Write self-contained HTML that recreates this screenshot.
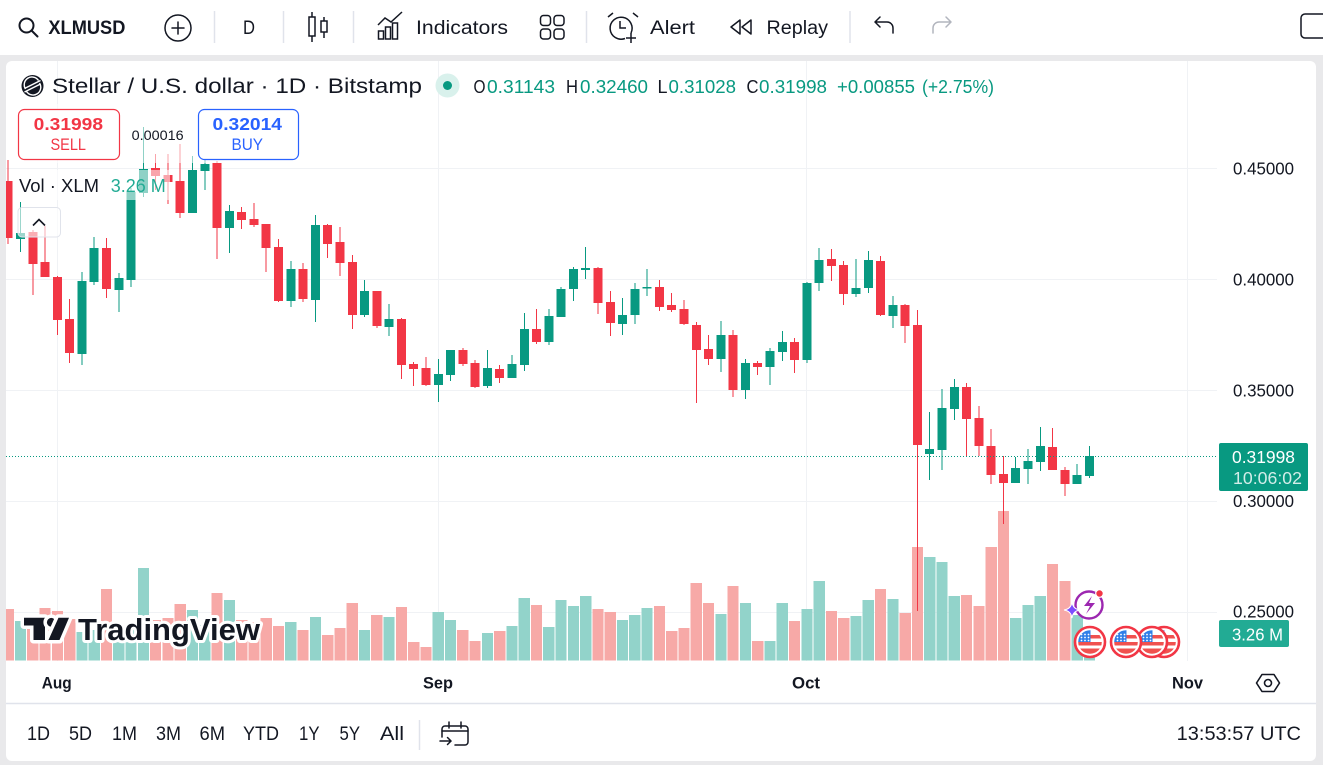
<!DOCTYPE html>
<html><head><meta charset="utf-8"><style>
html,body{margin:0;padding:0;background:#e9e9eb;}
svg{display:block;font-family:"Liberation Sans",Arial,sans-serif;}
.g{fill:#089981}.r{fill:#f23645}.vg{fill:#92d3ca}.vr{fill:#f7a9a7}
.t{fill:#131722}
</style></head><body>
<svg width="1323" height="765" viewBox="0 0 1323 765" xmlns="http://www.w3.org/2000/svg">
<defs>
<clipPath id="cc"><rect x="6" y="61" width="1211" height="600"/></clipPath>
<clipPath id="fc"><circle r="11.8"/></clipPath>
<g id="flag">
<circle r="15" fill="#fff" stroke="#f23645" stroke-width="2.6"/>
<g clip-path="url(#fc)">
<rect x="-13" y="-13" width="26" height="26" fill="#fff"/>
<rect x="-13" y="-7" width="26" height="3.5" fill="#f0514f"/>
<rect x="-13" y="0" width="26" height="3.5" fill="#f0514f"/>
<rect x="-13" y="6.5" width="26" height="6" fill="#f0514f"/>
<rect x="-13" y="-13" width="13.5" height="13" fill="#2f7fe8"/>
<g fill="#fff"><circle cx="-8.5" cy="-7.5" r=".9"/><circle cx="-5" cy="-7.5" r=".9"/><circle cx="-1.5" cy="-7.5" r=".9"/><circle cx="-8.5" cy="-4.5" r=".9"/><circle cx="-5" cy="-4.5" r=".9"/><circle cx="-1.5" cy="-4.5" r=".9"/><circle cx="-8.5" cy="-1.5" r=".9"/><circle cx="-5" cy="-1.5" r=".9"/><circle cx="-1.5" cy="-1.5" r=".9"/></g>
</g>
</g>
</defs>
<!-- backgrounds -->
<rect width="1323" height="765" fill="#e9e9eb"/>
<rect x="0" y="0" width="1323" height="55" fill="#fff"/>
<rect x="6" y="61" width="1310" height="700" rx="6" fill="#fff"/>
<line x1="6" y1="703.5" x2="1316" y2="703.5" stroke="#e0e3eb" stroke-width="1.5"/>

<!-- toolbar -->
<g fill="none" stroke="#131722" stroke-width="2" stroke-linecap="round">
<circle cx="26.5" cy="25.5" r="7"/><line x1="31.5" y1="30.5" x2="37.5" y2="36.5"/>
<circle cx="178" cy="28" r="13" stroke-width="1.5"/><line x1="172" y1="28" x2="184" y2="28" stroke-width="1.5"/><line x1="178" y1="22" x2="178" y2="34" stroke-width="1.5"/>
</g>
<g stroke="#e0e3eb" stroke-width="1.5"><line x1="214.5" y1="11" x2="214.5" y2="43"/><line x1="283.5" y1="11" x2="283.5" y2="43"/><line x1="353.5" y1="11" x2="353.5" y2="43"/><line x1="586.5" y1="11" x2="586.5" y2="43"/><line x1="850" y1="11" x2="850" y2="43"/><line x1="419.5" y1="720" x2="419.5" y2="750"/></g>
<text x="48.4" y="34" font-size="19" font-weight="bold" class="t" textLength="77" lengthAdjust="spacingAndGlyphs">XLMUSD</text>
<text x="243" y="34" font-size="19" class="t" textLength="12" lengthAdjust="spacingAndGlyphs">D</text>
<g fill="none" stroke="#131722" stroke-width="1.5">
<line x1="312" y1="12" x2="312" y2="42"/><rect x="309" y="17" width="6" height="19" fill="#fff"/>
<line x1="324" y1="17" x2="324" y2="38"/><rect x="321" y="21" width="6" height="11" fill="#fff"/>
<rect x="378.5" y="31" width="5" height="8"/><rect x="385.5" y="27" width="5" height="12"/><rect x="392.5" y="23" width="5" height="16"/>
<polyline points="378,25 385,18 391,22 402,12"/>
<rect x="540.5" y="15.5" width="10" height="10" rx="3"/><rect x="554" y="15.5" width="10" height="10" rx="3"/><rect x="540.5" y="29" width="10" height="10" rx="3"/><rect x="554" y="29" width="10" height="10" rx="3"/>
<path d="M631 33 A11 11 0 1 0 625 38.5"/><path d="M620 21 V28 H626"/><path d="M608 17 L613 13 M633 13 L638 17"/><path d="M631 33 V43 M626 38 H636"/>
<path d="M740 20 L731 27 L740 34 Z M751 20 L742 27 L751 34 Z" stroke-linejoin="round"/>
<path d="M875 22 L880 17 M875 22 L880 27 M875 22 H887 A6 6 0 0 1 893 28 V33" stroke-linecap="round"/>
<path d="M951 22 L946 17 M951 22 L946 27 M951 22 H939 A6 6 0 0 0 933 28 V33" stroke="#b2b5be" stroke-linecap="round"/>
<rect x="1301" y="14" width="34" height="24" rx="4"/>
</g>
<text x="416" y="34" font-size="19" class="t" textLength="92" lengthAdjust="spacingAndGlyphs">Indicators</text>
<text x="650" y="34" font-size="19" class="t" textLength="45" lengthAdjust="spacingAndGlyphs">Alert</text>
<text x="766.5" y="34" font-size="19" class="t" textLength="61.5" lengthAdjust="spacingAndGlyphs">Replay</text>

<!-- grid -->
<g stroke="#f0f2f5" stroke-width="1">
<line x1="6" y1="168.5" x2="1217" y2="168.5"/><line x1="6" y1="279.5" x2="1217" y2="279.5"/><line x1="6" y1="390.5" x2="1217" y2="390.5"/><line x1="6" y1="501.5" x2="1217" y2="501.5"/><line x1="6" y1="612.5" x2="1217" y2="612.5"/>
<line x1="57.5" y1="61" x2="57.5" y2="661"/><line x1="438.5" y1="61" x2="438.5" y2="661"/><line x1="806.5" y1="61" x2="806.5" y2="661"/><line x1="1187.5" y1="61" x2="1187.5" y2="661"/>
</g>

<!-- candles + volume -->
<g clip-path="url(#cc)" shape-rendering="crispEdges">
<g transform="translate(8.21 0)"><rect class="vr" x="-5.6" y="609" width="11.2" height="51.5"/><rect class="r" x="-0.5" y="160" width="1" height="84"/><rect class="r" x="-4.5" y="181" width="9" height="57"/></g>
<g transform="translate(20.5 0)"><rect class="vg" x="-5.6" y="621" width="11.2" height="39.5"/><rect class="g" x="-0.5" y="202" width="1" height="50"/><rect class="g" x="-4.5" y="233" width="9" height="6"/></g>
<g transform="translate(32.78 0)"><rect class="vr" x="-5.6" y="615" width="11.2" height="45.5"/><rect class="r" x="-0.5" y="230" width="1" height="65"/><rect class="r" x="-4.5" y="232" width="9" height="32"/></g>
<g transform="translate(45.07 0)"><rect class="vr" x="-5.6" y="608" width="11.2" height="52.5"/><rect class="r" x="-0.5" y="226" width="1" height="51"/><rect class="r" x="-4.5" y="262" width="9" height="15"/></g>
<g transform="translate(57.36 0)"><rect class="vr" x="-5.6" y="611" width="11.2" height="49.5"/><rect class="r" x="-0.5" y="276" width="1" height="59"/><rect class="r" x="-4.5" y="277" width="9" height="43"/></g>
<g transform="translate(69.65 0)"><rect class="vr" x="-5.6" y="619" width="11.2" height="41.5"/><rect class="r" x="-0.5" y="299" width="1" height="64"/><rect class="r" x="-4.5" y="319" width="9" height="34"/></g>
<g transform="translate(81.93 0)"><rect class="vg" x="-5.6" y="632" width="11.2" height="28.5"/><rect class="g" x="-0.5" y="272" width="1" height="93"/><rect class="g" x="-4.5" y="281" width="9" height="73"/></g>
<g transform="translate(94.22 0)"><rect class="vg" x="-5.6" y="630" width="11.2" height="30.5"/><rect class="g" x="-0.5" y="237" width="1" height="48"/><rect class="g" x="-4.5" y="248" width="9" height="34"/></g>
<g transform="translate(106.51 0)"><rect class="vr" x="-5.6" y="589" width="11.2" height="71.5"/><rect class="r" x="-0.5" y="238" width="1" height="60"/><rect class="r" x="-4.5" y="248" width="9" height="41"/></g>
<g transform="translate(118.79 0)"><rect class="vg" x="-5.6" y="625" width="11.2" height="35.5"/><rect class="g" x="-0.5" y="273" width="1" height="39"/><rect class="g" x="-4.5" y="278" width="9" height="12"/></g>
<g transform="translate(131.08 0)"><rect class="vg" x="-5.6" y="628" width="11.2" height="32.5"/><rect class="g" x="-0.5" y="188" width="1" height="99"/><rect class="g" x="-4.5" y="192" width="9" height="88"/></g>
<g transform="translate(143.37 0)"><rect class="vg" x="-5.6" y="568" width="11.2" height="92.5"/><rect class="g" x="-0.5" y="127" width="1" height="70"/><rect class="g" x="-4.5" y="169" width="9" height="24"/></g>
<g transform="translate(155.65 0)"><rect class="vr" x="-5.6" y="620" width="11.2" height="40.5"/><rect class="r" x="-0.5" y="154" width="1" height="36"/><rect class="r" x="-4.5" y="168" width="9" height="8"/></g>
<g transform="translate(167.94 0)"><rect class="vr" x="-5.6" y="618" width="11.2" height="42.5"/><rect class="r" x="-0.5" y="154" width="1" height="50"/><rect class="r" x="-4.5" y="175" width="9" height="7"/></g>
<g transform="translate(180.23 0)"><rect class="vr" x="-5.6" y="604" width="11.2" height="56.5"/><rect class="r" x="-0.5" y="144" width="1" height="74"/><rect class="r" x="-4.5" y="181" width="9" height="32"/></g>
<g transform="translate(192.52 0)"><rect class="vg" x="-5.6" y="610" width="11.2" height="50.5"/><rect class="g" x="-0.5" y="156" width="1" height="57"/><rect class="g" x="-4.5" y="170" width="9" height="43"/></g>
<g transform="translate(204.8 0)"><rect class="vg" x="-5.6" y="625" width="11.2" height="35.5"/><rect class="g" x="-0.5" y="155" width="1" height="35"/><rect class="g" x="-4.5" y="164" width="9" height="7"/></g>
<g transform="translate(217.09 0)"><rect class="vr" x="-5.6" y="593" width="11.2" height="67.5"/><rect class="r" x="-0.5" y="161" width="1" height="98"/><rect class="r" x="-4.5" y="163" width="9" height="65"/></g>
<g transform="translate(229.38 0)"><rect class="vg" x="-5.6" y="600" width="11.2" height="60.5"/><rect class="g" x="-0.5" y="205" width="1" height="48"/><rect class="g" x="-4.5" y="211" width="9" height="17"/></g>
<g transform="translate(241.66 0)"><rect class="vr" x="-5.6" y="620" width="11.2" height="40.5"/><rect class="r" x="-0.5" y="207" width="1" height="22"/><rect class="r" x="-4.5" y="212" width="9" height="8"/></g>
<g transform="translate(253.95 0)"><rect class="vr" x="-5.6" y="622" width="11.2" height="38.5"/><rect class="r" x="-0.5" y="203" width="1" height="24"/><rect class="r" x="-4.5" y="219" width="9" height="6"/></g>
<g transform="translate(266.24 0)"><rect class="vr" x="-5.6" y="618" width="11.2" height="42.5"/><rect class="r" x="-0.5" y="224" width="1" height="48"/><rect class="r" x="-4.5" y="224" width="9" height="24"/></g>
<g transform="translate(278.52 0)"><rect class="vr" x="-5.6" y="626" width="11.2" height="34.5"/><rect class="r" x="-0.5" y="239" width="1" height="63"/><rect class="r" x="-4.5" y="247" width="9" height="54"/></g>
<g transform="translate(290.81 0)"><rect class="vg" x="-5.6" y="622" width="11.2" height="38.5"/><rect class="g" x="-0.5" y="261" width="1" height="46"/><rect class="g" x="-4.5" y="269" width="9" height="32"/></g>
<g transform="translate(303.1 0)"><rect class="vr" x="-5.6" y="630" width="11.2" height="30.5"/><rect class="r" x="-0.5" y="263" width="1" height="39"/><rect class="r" x="-4.5" y="269" width="9" height="30"/></g>
<g transform="translate(315.39 0)"><rect class="vg" x="-5.6" y="617" width="11.2" height="43.5"/><rect class="g" x="-0.5" y="215" width="1" height="107"/><rect class="g" x="-4.5" y="225" width="9" height="75"/></g>
<g transform="translate(327.67 0)"><rect class="vr" x="-5.6" y="635" width="11.2" height="25.5"/><rect class="r" x="-0.5" y="224" width="1" height="34"/><rect class="r" x="-4.5" y="225" width="9" height="19"/></g>
<g transform="translate(339.96 0)"><rect class="vr" x="-5.6" y="628" width="11.2" height="32.5"/><rect class="r" x="-0.5" y="227" width="1" height="49"/><rect class="r" x="-4.5" y="242" width="9" height="21"/></g>
<g transform="translate(352.25 0)"><rect class="vr" x="-5.6" y="603" width="11.2" height="57.5"/><rect class="r" x="-0.5" y="255" width="1" height="74"/><rect class="r" x="-4.5" y="262" width="9" height="53"/></g>
<g transform="translate(364.53 0)"><rect class="vg" x="-5.6" y="630" width="11.2" height="30.5"/><rect class="g" x="-0.5" y="280" width="1" height="37"/><rect class="g" x="-4.5" y="291" width="9" height="24"/></g>
<g transform="translate(376.82 0)"><rect class="vr" x="-5.6" y="615" width="11.2" height="45.5"/><rect class="r" x="-0.5" y="291" width="1" height="37"/><rect class="r" x="-4.5" y="291" width="9" height="35"/></g>
<g transform="translate(389.11 0)"><rect class="vg" x="-5.6" y="617" width="11.2" height="43.5"/><rect class="g" x="-0.5" y="304" width="1" height="32"/><rect class="g" x="-4.5" y="319" width="9" height="8"/></g>
<g transform="translate(401.39 0)"><rect class="vr" x="-5.6" y="607" width="11.2" height="53.5"/><rect class="r" x="-0.5" y="318" width="1" height="61"/><rect class="r" x="-4.5" y="319" width="9" height="46"/></g>
<g transform="translate(413.68 0)"><rect class="vr" x="-5.6" y="642" width="11.2" height="18.5"/><rect class="r" x="-0.5" y="362" width="1" height="24"/><rect class="r" x="-4.5" y="364" width="9" height="5"/></g>
<g transform="translate(425.97 0)"><rect class="vr" x="-5.6" y="647" width="11.2" height="13.5"/><rect class="r" x="-0.5" y="357" width="1" height="29"/><rect class="r" x="-4.5" y="368" width="9" height="17"/></g>
<g transform="translate(438.26 0)"><rect class="vg" x="-5.6" y="612" width="11.2" height="48.5"/><rect class="g" x="-0.5" y="359" width="1" height="43"/><rect class="g" x="-4.5" y="374" width="9" height="11"/></g>
<g transform="translate(450.54 0)"><rect class="vg" x="-5.6" y="620" width="11.2" height="40.5"/><rect class="g" x="-0.5" y="350" width="1" height="31"/><rect class="g" x="-4.5" y="350" width="9" height="25"/></g>
<g transform="translate(462.83 0)"><rect class="vr" x="-5.6" y="630" width="11.2" height="30.5"/><rect class="r" x="-0.5" y="348" width="1" height="18"/><rect class="r" x="-4.5" y="350" width="9" height="14"/></g>
<g transform="translate(475.12 0)"><rect class="vr" x="-5.6" y="641" width="11.2" height="19.5"/><rect class="r" x="-0.5" y="360" width="1" height="28"/><rect class="r" x="-4.5" y="363" width="9" height="24"/></g>
<g transform="translate(487.4 0)"><rect class="vg" x="-5.6" y="633" width="11.2" height="27.5"/><rect class="g" x="-0.5" y="350" width="1" height="38"/><rect class="g" x="-4.5" y="368" width="9" height="18"/></g>
<g transform="translate(499.69 0)"><rect class="vr" x="-5.6" y="631" width="11.2" height="29.5"/><rect class="r" x="-0.5" y="365" width="1" height="18"/><rect class="r" x="-4.5" y="369" width="9" height="9"/></g>
<g transform="translate(511.98 0)"><rect class="vg" x="-5.6" y="626" width="11.2" height="34.5"/><rect class="g" x="-0.5" y="355" width="1" height="23"/><rect class="g" x="-4.5" y="364" width="9" height="14"/></g>
<g transform="translate(524.26 0)"><rect class="vg" x="-5.6" y="598" width="11.2" height="62.5"/><rect class="g" x="-0.5" y="313" width="1" height="58"/><rect class="g" x="-4.5" y="329" width="9" height="36"/></g>
<g transform="translate(536.55 0)"><rect class="vr" x="-5.6" y="605" width="11.2" height="55.5"/><rect class="r" x="-0.5" y="309" width="1" height="35"/><rect class="r" x="-4.5" y="329" width="9" height="13"/></g>
<g transform="translate(548.84 0)"><rect class="vg" x="-5.6" y="627" width="11.2" height="33.5"/><rect class="g" x="-0.5" y="309" width="1" height="36"/><rect class="g" x="-4.5" y="316" width="9" height="26"/></g>
<g transform="translate(561.13 0)"><rect class="vg" x="-5.6" y="600" width="11.2" height="60.5"/><rect class="g" x="-0.5" y="287" width="1" height="30"/><rect class="g" x="-4.5" y="289" width="9" height="28"/></g>
<g transform="translate(573.41 0)"><rect class="vg" x="-5.6" y="606" width="11.2" height="54.5"/><rect class="g" x="-0.5" y="267" width="1" height="34"/><rect class="g" x="-4.5" y="269" width="9" height="20"/></g>
<g transform="translate(585.7 0)"><rect class="vg" x="-5.6" y="596" width="11.2" height="64.5"/><rect class="g" x="-0.5" y="247" width="1" height="32"/><rect class="g" x="-4.5" y="268" width="9" height="2"/></g>
<g transform="translate(597.99 0)"><rect class="vr" x="-5.6" y="609" width="11.2" height="51.5"/><rect class="r" x="-0.5" y="267" width="1" height="47"/><rect class="r" x="-4.5" y="268" width="9" height="35"/></g>
<g transform="translate(610.27 0)"><rect class="vr" x="-5.6" y="612" width="11.2" height="48.5"/><rect class="r" x="-0.5" y="291" width="1" height="45"/><rect class="r" x="-4.5" y="302" width="9" height="21"/></g>
<g transform="translate(622.56 0)"><rect class="vg" x="-5.6" y="620" width="11.2" height="40.5"/><rect class="g" x="-0.5" y="298" width="1" height="37"/><rect class="g" x="-4.5" y="315" width="9" height="9"/></g>
<g transform="translate(634.85 0)"><rect class="vg" x="-5.6" y="615" width="11.2" height="45.5"/><rect class="g" x="-0.5" y="283" width="1" height="41"/><rect class="g" x="-4.5" y="289" width="9" height="26"/></g>
<g transform="translate(647.13 0)"><rect class="vg" x="-5.6" y="608" width="11.2" height="52.5"/><rect class="g" x="-0.5" y="269" width="1" height="27"/><rect class="g" x="-4.5" y="287" width="9" height="1.5"/></g>
<g transform="translate(659.42 0)"><rect class="vr" x="-5.6" y="606" width="11.2" height="54.5"/><rect class="r" x="-0.5" y="280" width="1" height="31"/><rect class="r" x="-4.5" y="287" width="9" height="20"/></g>
<g transform="translate(671.71 0)"><rect class="vr" x="-5.6" y="631" width="11.2" height="29.5"/><rect class="r" x="-0.5" y="293" width="1" height="19"/><rect class="r" x="-4.5" y="305" width="9" height="5"/></g>
<g transform="translate(684 0)"><rect class="vr" x="-5.6" y="628" width="11.2" height="32.5"/><rect class="r" x="-0.5" y="300" width="1" height="25"/><rect class="r" x="-4.5" y="309" width="9" height="15"/></g>
<g transform="translate(696.28 0)"><rect class="vr" x="-5.6" y="583" width="11.2" height="77.5"/><rect class="r" x="-0.5" y="322" width="1" height="81"/><rect class="r" x="-4.5" y="325" width="9" height="25"/></g>
<g transform="translate(708.57 0)"><rect class="vr" x="-5.6" y="603" width="11.2" height="57.5"/><rect class="r" x="-0.5" y="335" width="1" height="30"/><rect class="r" x="-4.5" y="349" width="9" height="10"/></g>
<g transform="translate(720.86 0)"><rect class="vg" x="-5.6" y="614" width="11.2" height="46.5"/><rect class="g" x="-0.5" y="321" width="1" height="51"/><rect class="g" x="-4.5" y="335" width="9" height="24"/></g>
<g transform="translate(733.14 0)"><rect class="vr" x="-5.6" y="586" width="11.2" height="74.5"/><rect class="r" x="-0.5" y="330" width="1" height="67"/><rect class="r" x="-4.5" y="335" width="9" height="55"/></g>
<g transform="translate(745.43 0)"><rect class="vg" x="-5.6" y="603" width="11.2" height="57.5"/><rect class="g" x="-0.5" y="359" width="1" height="40"/><rect class="g" x="-4.5" y="363" width="9" height="27"/></g>
<g transform="translate(757.72 0)"><rect class="vr" x="-5.6" y="641" width="11.2" height="19.5"/><rect class="r" x="-0.5" y="361" width="1" height="14"/><rect class="r" x="-4.5" y="363" width="9" height="4"/></g>
<g transform="translate(770 0)"><rect class="vg" x="-5.6" y="641" width="11.2" height="19.5"/><rect class="g" x="-0.5" y="348" width="1" height="37"/><rect class="g" x="-4.5" y="351" width="9" height="16"/></g>
<g transform="translate(782.29 0)"><rect class="vg" x="-5.6" y="603" width="11.2" height="57.5"/><rect class="g" x="-0.5" y="331" width="1" height="30"/><rect class="g" x="-4.5" y="342" width="9" height="10"/></g>
<g transform="translate(794.58 0)"><rect class="vr" x="-5.6" y="621" width="11.2" height="39.5"/><rect class="r" x="-0.5" y="338" width="1" height="35"/><rect class="r" x="-4.5" y="342" width="9" height="18"/></g>
<g transform="translate(806.87 0)"><rect class="vg" x="-5.6" y="609" width="11.2" height="51.5"/><rect class="g" x="-0.5" y="282" width="1" height="81"/><rect class="g" x="-4.5" y="283" width="9" height="77"/></g>
<g transform="translate(819.15 0)"><rect class="vg" x="-5.6" y="581" width="11.2" height="79.5"/><rect class="g" x="-0.5" y="248" width="1" height="43"/><rect class="g" x="-4.5" y="260" width="9" height="23"/></g>
<g transform="translate(831.44 0)"><rect class="vr" x="-5.6" y="611" width="11.2" height="49.5"/><rect class="r" x="-0.5" y="249" width="1" height="32"/><rect class="r" x="-4.5" y="259" width="9" height="7"/></g>
<g transform="translate(843.73 0)"><rect class="vr" x="-5.6" y="618" width="11.2" height="42.5"/><rect class="r" x="-0.5" y="261" width="1" height="44"/><rect class="r" x="-4.5" y="265" width="9" height="29"/></g>
<g transform="translate(856.01 0)"><rect class="vg" x="-5.6" y="616" width="11.2" height="44.5"/><rect class="g" x="-0.5" y="259" width="1" height="38"/><rect class="g" x="-4.5" y="288" width="9" height="6"/></g>
<g transform="translate(868.3 0)"><rect class="vg" x="-5.6" y="600" width="11.2" height="60.5"/><rect class="g" x="-0.5" y="251" width="1" height="42"/><rect class="g" x="-4.5" y="260" width="9" height="28"/></g>
<g transform="translate(880.59 0)"><rect class="vr" x="-5.6" y="589" width="11.2" height="71.5"/><rect class="r" x="-0.5" y="256" width="1" height="60"/><rect class="r" x="-4.5" y="261" width="9" height="54"/></g>
<g transform="translate(892.87 0)"><rect class="vg" x="-5.6" y="599" width="11.2" height="61.5"/><rect class="g" x="-0.5" y="296" width="1" height="32"/><rect class="g" x="-4.5" y="305" width="9" height="11"/></g>
<g transform="translate(905.16 0)"><rect class="vr" x="-5.6" y="613" width="11.2" height="47.5"/><rect class="r" x="-0.5" y="304" width="1" height="39"/><rect class="r" x="-4.5" y="305" width="9" height="21"/></g>
<g transform="translate(917.45 0)"><rect class="vr" x="-5.6" y="547" width="11.2" height="113.5"/><rect class="r" x="-0.5" y="310" width="1" height="301"/><rect class="r" x="-4.5" y="325" width="9" height="120"/></g>
<g transform="translate(929.74 0)"><rect class="vg" x="-5.6" y="557" width="11.2" height="103.5"/><rect class="g" x="-0.5" y="412" width="1" height="68"/><rect class="g" x="-4.5" y="449" width="9" height="5"/></g>
<g transform="translate(942.02 0)"><rect class="vg" x="-5.6" y="562" width="11.2" height="98.5"/><rect class="g" x="-0.5" y="389" width="1" height="81"/><rect class="g" x="-4.5" y="408" width="9" height="42"/></g>
<g transform="translate(954.31 0)"><rect class="vg" x="-5.6" y="596" width="11.2" height="64.5"/><rect class="g" x="-0.5" y="379" width="1" height="41"/><rect class="g" x="-4.5" y="387" width="9" height="22"/></g>
<g transform="translate(966.6 0)"><rect class="vr" x="-5.6" y="595" width="11.2" height="65.5"/><rect class="r" x="-0.5" y="383" width="1" height="73"/><rect class="r" x="-4.5" y="387" width="9" height="32"/></g>
<g transform="translate(978.88 0)"><rect class="vr" x="-5.6" y="606" width="11.2" height="54.5"/><rect class="r" x="-0.5" y="406" width="1" height="50"/><rect class="r" x="-4.5" y="418" width="9" height="28"/></g>
<g transform="translate(991.17 0)"><rect class="vr" x="-5.6" y="547" width="11.2" height="113.5"/><rect class="r" x="-0.5" y="429" width="1" height="55"/><rect class="r" x="-4.5" y="446" width="9" height="29"/></g>
<g transform="translate(1003.46 0)"><rect class="vr" x="-5.6" y="511" width="11.2" height="149.5"/><rect class="r" x="-0.5" y="456" width="1" height="68"/><rect class="r" x="-4.5" y="474" width="9" height="9"/></g>
<g transform="translate(1015.74 0)"><rect class="vg" x="-5.6" y="618" width="11.2" height="42.5"/><rect class="g" x="-0.5" y="457" width="1" height="26"/><rect class="g" x="-4.5" y="468" width="9" height="15"/></g>
<g transform="translate(1028.03 0)"><rect class="vg" x="-5.6" y="605" width="11.2" height="55.5"/><rect class="g" x="-0.5" y="449" width="1" height="35"/><rect class="g" x="-4.5" y="461" width="9" height="8"/></g>
<g transform="translate(1040.32 0)"><rect class="vg" x="-5.6" y="596" width="11.2" height="64.5"/><rect class="g" x="-0.5" y="427" width="1" height="44"/><rect class="g" x="-4.5" y="446" width="9" height="16"/></g>
<g transform="translate(1052.6 0)"><rect class="vr" x="-5.6" y="564" width="11.2" height="96.5"/><rect class="r" x="-0.5" y="428" width="1" height="42"/><rect class="r" x="-4.5" y="447" width="9" height="23"/></g>
<g transform="translate(1064.89 0)"><rect class="vr" x="-5.6" y="581" width="11.2" height="79.5"/><rect class="r" x="-0.5" y="467" width="1" height="29"/><rect class="r" x="-4.5" y="470" width="9" height="14"/></g>
<g transform="translate(1077.18 0)"><rect class="vg" x="-5.6" y="615" width="11.2" height="45.5"/><rect class="g" x="-0.5" y="464" width="1" height="20"/><rect class="g" x="-4.5" y="475" width="9" height="9"/></g>
<g transform="translate(1089.47 0)"><rect class="vg" x="-5.6" y="633" width="11.2" height="27.5"/><rect class="g" x="-0.5" y="446" width="1" height="32"/><rect class="g" x="-4.5" y="456" width="9" height="20"/></g>
</g>

<!-- current price line -->
<line x1="6" y1="456.5" x2="1217" y2="456.5" stroke="#089981" stroke-width="1" stroke-dasharray="1 2"/>

<!-- legend overlays -->
<rect x="15" y="104" width="287" height="59" fill="#fff" fill-opacity="0.55"/>
<rect x="15" y="170" width="155" height="30" fill="#fff" fill-opacity="0.55"/>

<!-- header -->
<circle cx="32.5" cy="86" r="11" fill="#131722"/>
<g fill="none" stroke="#fff" stroke-width="1.4"><path d="M25.5 89 A7.5 7.5 0 0 1 38.5 80.5"/><path d="M39.5 83 A7.5 7.5 0 0 1 26.5 91.5"/><line x1="24.5" y1="88.5" x2="40.5" y2="80.5"/><line x1="24.5" y1="92" x2="40.5" y2="84"/></g>
<text x="52" y="93" font-size="21" class="t" textLength="370" lengthAdjust="spacingAndGlyphs">Stellar / U.S. dollar · 1D · Bitstamp</text>
<circle cx="447.5" cy="85.5" r="12" fill="#d9f1ec"/><circle cx="447.5" cy="85.5" r="4.5" fill="#089981"/>
<g font-size="18.5">
<text x="473.5" y="93" class="t" textLength="12" lengthAdjust="spacingAndGlyphs">O</text>
<text x="487" y="93" fill="#089981" textLength="68" lengthAdjust="spacingAndGlyphs">0.31143</text>
<text x="566" y="93" class="t" textLength="12" lengthAdjust="spacingAndGlyphs">H</text>
<text x="580" y="93" fill="#089981" textLength="68" lengthAdjust="spacingAndGlyphs">0.32460</text>
<text x="657.5" y="93" class="t" textLength="10" lengthAdjust="spacingAndGlyphs">L</text>
<text x="668.5" y="93" fill="#089981" textLength="67.5" lengthAdjust="spacingAndGlyphs">0.31028</text>
<text x="746.5" y="93" class="t" textLength="12" lengthAdjust="spacingAndGlyphs">C</text>
<text x="759" y="93" fill="#089981" textLength="68" lengthAdjust="spacingAndGlyphs">0.31998</text>
<text x="837" y="93" fill="#089981" textLength="78" lengthAdjust="spacingAndGlyphs">+0.00855</text>
<text x="922" y="93" fill="#089981" textLength="72" lengthAdjust="spacingAndGlyphs">(+2.75%)</text>
</g>

<!-- sell / buy -->
<rect x="18.5" y="109.5" width="101" height="50" rx="6" fill="#fff" stroke="#f23645" stroke-width="1.2"/>
<text x="33.7" y="130" font-size="17.5" font-weight="bold" fill="#f23645" textLength="69.3" lengthAdjust="spacingAndGlyphs">0.31998</text>
<text x="50.5" y="150" font-size="16.5" fill="#f23645" textLength="35.5" lengthAdjust="spacingAndGlyphs">SELL</text>
<rect x="198.5" y="109.5" width="100" height="50" rx="6" fill="#fff" stroke="#2962ff" stroke-width="1.2"/>
<text x="212.5" y="130" font-size="17.5" font-weight="bold" fill="#2962ff" textLength="69.5" lengthAdjust="spacingAndGlyphs">0.32014</text>
<text x="231.5" y="150" font-size="16.5" fill="#2962ff" textLength="31.5" lengthAdjust="spacingAndGlyphs">BUY</text>
<text x="131.7" y="140" font-size="14" class="t" textLength="52" lengthAdjust="spacingAndGlyphs">0.00016</text>

<!-- volume legend -->
<text x="19" y="192" font-size="18.5" class="t" textLength="80" lengthAdjust="spacingAndGlyphs">Vol · XLM</text>
<text x="110.7" y="192" font-size="18.5" fill="#22ab94" textLength="55" lengthAdjust="spacingAndGlyphs">3.26 M</text>
<rect x="18" y="207.5" width="42.5" height="29.5" rx="4" fill="#fff" fill-opacity="0.6" stroke="#e0e3eb" stroke-width="1"/>
<polyline points="33,225.5 39,219.5 45,225.5" fill="none" stroke="#131722" stroke-width="1.6"/>

<!-- TradingView logo -->
<g stroke="#fff" stroke-width="7" stroke-linejoin="round" fill="#131722" paint-order="stroke">
<path d="M24 617.7 H45 V640 H33.5 V625.5 H24 Z"/>
<circle cx="51.3" cy="622.3" r="4.4"/>
<path d="M58.5 617.7 H69 L59.5 640 H48.5 Z"/>
<text x="78" y="640" font-size="31" font-weight="bold" stroke-width="6" textLength="182" lengthAdjust="spacingAndGlyphs">TradingView</text>
</g>

<!-- events -->
<circle cx="1089" cy="605" r="13.5" fill="#fff" fill-opacity="0.9" stroke="#9c27b0" stroke-width="2.4"/>
<path d="M1092 596 L1084 606 H1090 L1086 614 L1095 603 H1089 Z" fill="#9c27b0"/>
<circle cx="1099.5" cy="593.5" r="3.8" fill="#f23645" stroke="#fff" stroke-width="1.2"/>
<path d="M1072 602 Q1073 609 1080 610 Q1073 611 1072 618 Q1071 611 1064 610 Q1071 609 1072 602 Z" fill="#7c4dff" stroke="#fff" stroke-width="1"/>
<use href="#flag" x="1164" y="642"/>
<use href="#flag" x="1152" y="642"/>
<use href="#flag" x="1126" y="642"/>
<use href="#flag" x="1090" y="642"/>

<!-- price axis -->
<g font-size="17.5" class="t">
<text x="1233" y="174.5" textLength="61" lengthAdjust="spacingAndGlyphs">0.45000</text>
<text x="1233" y="285.5" textLength="61" lengthAdjust="spacingAndGlyphs">0.40000</text>
<text x="1233" y="396.5" textLength="61" lengthAdjust="spacingAndGlyphs">0.35000</text>
<text x="1233" y="507" textLength="61" lengthAdjust="spacingAndGlyphs">0.30000</text>
<text x="1233" y="617.5" textLength="61" lengthAdjust="spacingAndGlyphs">0.25000</text>
</g>
<rect x="1219" y="443" width="89" height="48" rx="2" fill="#089981"/>
<text x="1232" y="463" font-size="17.5" fill="#fff" textLength="63" lengthAdjust="spacingAndGlyphs">0.31998</text>
<text x="1233" y="484" font-size="17.5" fill="#fff" fill-opacity="0.82" textLength="69" lengthAdjust="spacingAndGlyphs">10:06:02</text>
<rect x="1219" y="620" width="70" height="27" rx="2" fill="#22ab94"/>
<text x="1232" y="640.5" font-size="17.5" fill="#fff" textLength="51" lengthAdjust="spacingAndGlyphs">3.26 M</text>

<!-- time axis -->
<g font-size="17" font-weight="bold" class="t">
<text x="41.7" y="688.5" textLength="30" lengthAdjust="spacingAndGlyphs">Aug</text>
<text x="423" y="688.5" textLength="30" lengthAdjust="spacingAndGlyphs">Sep</text>
<text x="792" y="688.5" textLength="28" lengthAdjust="spacingAndGlyphs">Oct</text>
<text x="1172" y="688.5" textLength="31" lengthAdjust="spacingAndGlyphs">Nov</text>
</g>
<polygon points="1262,674.5 1274,674.5 1279.5,683 1274,691.5 1262,691.5 1256.5,683" fill="none" stroke="#131722" stroke-width="1.6" stroke-linejoin="round"/>
<circle cx="1268" cy="683" r="3.5" fill="none" stroke="#131722" stroke-width="1.6"/>

<!-- bottom bar -->
<g font-size="19.5" class="t">
<text x="27" y="740" textLength="23" lengthAdjust="spacingAndGlyphs">1D</text>
<text x="69" y="740" textLength="23" lengthAdjust="spacingAndGlyphs">5D</text>
<text x="112" y="740" textLength="25" lengthAdjust="spacingAndGlyphs">1M</text>
<text x="156" y="740" textLength="25" lengthAdjust="spacingAndGlyphs">3M</text>
<text x="199.5" y="740" textLength="25.5" lengthAdjust="spacingAndGlyphs">6M</text>
<text x="243" y="740" textLength="36" lengthAdjust="spacingAndGlyphs">YTD</text>
<text x="299" y="740" textLength="20.5" lengthAdjust="spacingAndGlyphs">1Y</text>
<text x="339.5" y="740" textLength="20.5" lengthAdjust="spacingAndGlyphs">5Y</text>
<text x="380" y="740" textLength="24" lengthAdjust="spacingAndGlyphs">All</text>
<text x="1176.7" y="740" textLength="124.3" lengthAdjust="spacingAndGlyphs">13:53:57 UTC</text>
</g>
<g fill="none" stroke="#131722" stroke-width="1.5" stroke-linecap="round">
<path d="M442 737 V729 A3 3 0 0 1 445 726 H465 A3 3 0 0 1 468 729 V742 A3 3 0 0 1 465 745 H455"/>
<line x1="442" y1="731" x2="468" y2="731"/>
<line x1="449" y1="722" x2="449" y2="728"/><line x1="461" y1="722" x2="461" y2="728"/>
<path d="M440 741 H451 M447.5 737.5 L451 741 L447.5 744.5"/>
</g>
</svg>
</body></html>
